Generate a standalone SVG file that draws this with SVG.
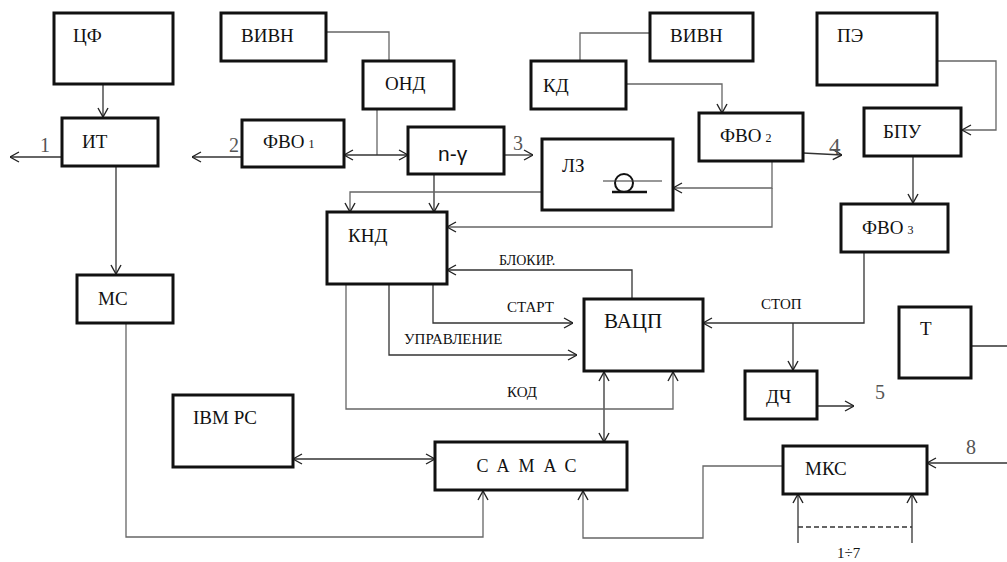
<svg xmlns="http://www.w3.org/2000/svg" width="1007" height="562" viewBox="0 0 1007 562">
<style>
.b{fill:#fff;stroke:#111;stroke-width:3}
.t{font-family:'Liberation Serif','DejaVu Serif',serif;font-size:19px;fill:#111}
.s{font-size:12px}
.l{font-family:'Liberation Serif','DejaVu Serif',serif;font-size:15px;fill:#111}
.n{font-family:'Liberation Serif','DejaVu Serif',serif;font-size:20px;fill:#555}
.c{fill:none;stroke:#333;stroke-width:1.3}
.g{fill:none;stroke:#666;stroke-width:1.3}
</style>
<defs>
<marker id="a" viewBox="0 0 10 12" refX="10" refY="6" markerWidth="10" markerHeight="12" markerUnits="userSpaceOnUse" orient="auto-start-reverse">
<path d="M1,1 L10,6 L1,11" fill="none" stroke="#222" stroke-width="1.4"/>
</marker>
</defs>
<rect width="1007" height="562" fill="#fff"/>
<g id="connectors">
<path class="c" d="M103,84 V117" marker-end="url(#a)"/>
<path class="c" d="M62,157 H10" marker-end="url(#a)"/>
<path class="c" d="M116,166 V274" marker-end="url(#a)"/>
<path class="g" d="M326,32 H389 V61"/>
<path class="g" d="M377,109 V155"/>
<path class="c" d="M344,155 H408" marker-start="url(#a)" marker-end="url(#a)"/>
<path class="c" d="M242,157 H192" marker-end="url(#a)"/>
<path class="c" d="M504,155 H533" marker-end="url(#a)"/>
<path class="c" d="M434,174 V212" marker-end="url(#a)"/>
<path class="g" d="M542,192 H350 V212" marker-end="url(#a)"/>
<path class="g" d="M650,33 H580 V61"/>
<path class="g" d="M626,84 H722 V113" marker-end="url(#a)"/>
<path class="c" d="M803,153 L842,155" marker-end="url(#a)"/>
<path class="g" d="M772,161 V188 H673" marker-end="url(#a)"/>
<path class="g" d="M772,188 V227 H447" marker-end="url(#a)"/>
<path class="g" d="M937,61 H996 V130 H962" marker-end="url(#a)"/>
<path class="c" d="M913,156 V203" marker-end="url(#a)"/>
<path class="c" d="M864,252 V323 H703" marker-end="url(#a)"/>
<path class="c" d="M793,323 V370" marker-end="url(#a)"/>
<path class="c" d="M817,406 H854" marker-end="url(#a)"/>
<path class="c" d="M971,346 H1007"/>
<path class="c" d="M1007,463 H927" marker-end="url(#a)"/>
<path class="c" d="M798,543 V494" marker-end="url(#a)"/>
<path class="c" d="M912,543 V494" marker-end="url(#a)"/>
<path class="c" d="M798,527 H912" stroke-dasharray="5,3"/>
<path class="g" d="M783,466 H703 V538 H583 V491" marker-end="url(#a)"/>
<path class="g" d="M126,323 V537 H483 V491" marker-end="url(#a)"/>
<path class="c" d="M293,459 H435" marker-start="url(#a)" marker-end="url(#a)"/>
<path class="c" d="M604,372 V442" marker-start="url(#a)" marker-end="url(#a)"/>
<path class="g" d="M346,284 V409 H673 V372" marker-end="url(#a)"/>
<path class="c" d="M389,284 V355 H577" marker-end="url(#a)"/>
<path class="c" d="M433,284 V323 H573" marker-end="url(#a)"/>
<path class="c" d="M632,299 V270 H447" marker-end="url(#a)"/>
<text class="n" x="40" y="152">1</text>
<text class="n" x="229" y="152">2</text>
<text class="n" x="513" y="150">3</text>
<text class="n" x="829" y="154" style="font-size:23px">4</text>
<text class="n" x="875" y="399">5</text>
<text class="n" x="966" y="454">8</text>
<text class="l" x="837" y="558">1÷7</text>
<text class="l" x="499" y="265" style="font-size:14px">БЛОКИР.</text>
<text class="l" x="507" y="312">СТАРТ</text>
<text class="l" x="404" y="344">УПРАВЛЕНИЕ</text>
<text class="l" x="507" y="397">КОД</text>
<text class="l" x="761" y="309">СТОП</text>
</g>
<g id="cf"><rect class="b" x="54" y="13" width="119" height="71"/><text class="t" x="73" y="42">ЦФ</text></g>
<g id="it"><rect class="b" x="62" y="118" width="96" height="48"/><text class="t" x="82" y="148">ИТ</text></g>
<g id="vivn1"><rect class="b" x="221" y="13" width="105" height="48"/><text class="t" x="241" y="42">ВИВН</text></g>
<g id="ond"><rect class="b" x="363" y="61" width="91" height="48"/><text class="t" x="385" y="90">ОНД</text></g>
<g id="fvo1"><rect class="b" x="242" y="120" width="102" height="47"/><text class="t" x="263" y="148">ФВО<tspan class="s" dx="4">1</tspan></text></g>
<g id="ng"><rect class="b" x="408" y="127" width="96" height="47"/><text class="t" x="438" y="161" style="font-family:'Liberation Sans',sans-serif;font-size:21px">n-γ</text></g>
<g id="lz"><rect class="b" x="542" y="139" width="131" height="71"/><text class="t" x="562" y="172">ЛЗ</text>
<circle cx="624" cy="183" r="9" fill="none" stroke="#111" stroke-width="2"/>
<path d="M603,181 H662" stroke="#333" stroke-width="1.2"/>
<path d="M612,192 H647" stroke="#111" stroke-width="2.5"/></g>
<g id="vivn2"><rect class="b" x="650" y="13" width="103" height="48"/><text class="t" x="670" y="42">ВИВН</text></g>
<g id="kd"><rect class="b" x="531" y="61" width="95" height="48"/><text class="t" x="543" y="92">КД</text></g>
<g id="fvo2"><rect class="b" x="699" y="113" width="104" height="48"/><text class="t" x="720" y="142">ФВО<tspan class="s" dx="4">2</tspan></text></g>
<g id="pe"><rect class="b" x="817" y="13" width="120" height="72"/><text class="t" x="837" y="42">ПЭ</text></g>
<g id="bpu"><rect class="b" x="864" y="108" width="97" height="48"/><text class="t" x="883" y="138">БПУ</text></g>
<g id="fvo3"><rect class="b" x="841" y="204" width="107" height="48"/><text class="t" x="862" y="234">ФВО<tspan class="s" dx="4">3</tspan></text></g>
<g id="knd"><rect class="b" x="327" y="212" width="120" height="72"/><text class="t" x="348" y="242">КНД</text></g>
<g id="vacp"><rect class="b" x="584" y="299" width="119" height="72"/><text class="t" x="604" y="328" style="font-size:21px">ВАЦП</text></g>
<g id="ms"><rect class="b" x="77" y="275" width="96" height="48"/><text class="t" x="98" y="305">МС</text></g>
<g id="ibm"><rect class="b" x="173" y="395" width="120" height="72"/><text class="t" x="193" y="424">IBM PC</text></g>
<g id="dch"><rect class="b" x="745" y="371" width="72" height="48"/><text class="t" x="766" y="403">ДЧ</text></g>
<g id="t"><rect class="b" x="899" y="307" width="72" height="71"/><text class="t" x="920" y="335">Т</text></g>
<g id="camac"><rect class="b" x="435" y="442" width="192" height="48"/><text class="t" x="531" y="472" text-anchor="middle" letter-spacing="9" style="font-size:18px">САМАС</text></g>
<g id="mks"><rect class="b" x="783" y="446" width="144" height="48"/><text class="t" x="805" y="475">МКС</text></g>
</svg>
